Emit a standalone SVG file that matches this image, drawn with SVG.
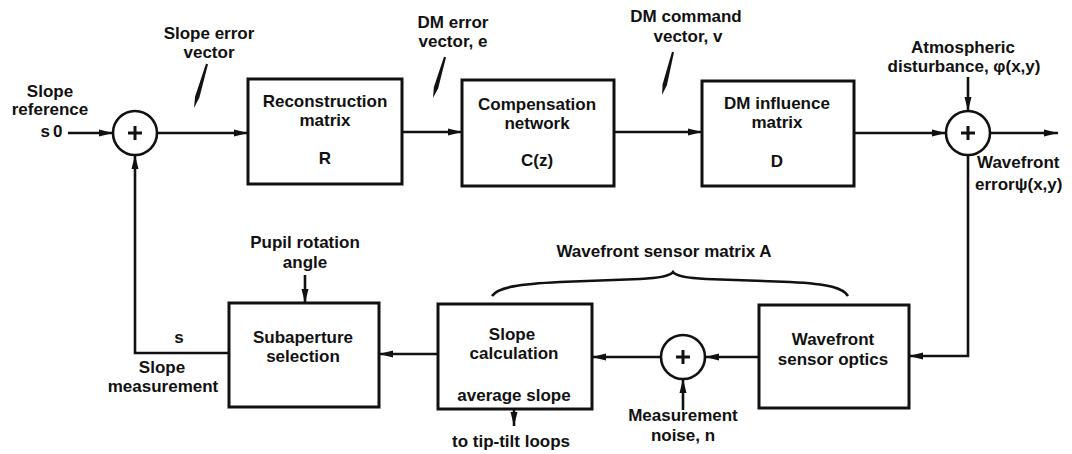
<svg xmlns="http://www.w3.org/2000/svg" width="1072" height="454" viewBox="0 0 1072 454">
<defs>
<style>
text{font-family:"Liberation Sans",Arial,sans-serif;font-weight:bold;font-size:17px;fill:#111;text-anchor:middle}
.box{fill:#fff;stroke:#111;stroke-width:3}
.sum{fill:#fff;stroke:#111;stroke-width:2.6}
.plus{stroke:#111;stroke-width:3;fill:none}
.ln{fill:none;stroke:#111;stroke-width:2.6}
.ptr{fill:#111;stroke:none}
.l{text-anchor:start}
</style>
<marker id="ah" viewBox="0 0 14 8" refX="14" refY="4" markerWidth="14" markerHeight="8" markerUnits="userSpaceOnUse" orient="auto">
<path d="M0,0.5 L14,4 L0,7.5 Z" fill="#111"/>
</marker>
</defs>
<rect width="1072" height="454" fill="#fff"/>

<g id="connectors">
<line class="ln" x1="68" y1="133" x2="113" y2="133" marker-end="url(#ah)"/>
<line class="ln" x1="157" y1="133" x2="248" y2="133" marker-end="url(#ah)"/>
<line class="ln" x1="402" y1="132" x2="462" y2="132" marker-end="url(#ah)"/>
<line class="ln" x1="614" y1="132" x2="702" y2="132" marker-end="url(#ah)"/>
<line class="ln" x1="854" y1="133" x2="946" y2="133" marker-end="url(#ah)"/>
<line class="ln" x1="990" y1="133" x2="1058" y2="133" marker-end="url(#ah)"/>
<line class="ln" x1="968" y1="77" x2="968" y2="111" marker-end="url(#ah)"/>
<polyline class="ln" points="968,155 968,356 909,356" marker-end="url(#ah)"/>
<line class="ln" x1="759" y1="357" x2="705" y2="357" marker-end="url(#ah)"/>
<line class="ln" x1="661" y1="357" x2="592" y2="357" marker-end="url(#ah)"/>
<line class="ln" x1="683" y1="410" x2="683" y2="379" marker-end="url(#ah)"/>
<line class="ln" x1="438" y1="354" x2="379" y2="354" marker-end="url(#ah)"/>
<polyline class="ln" points="229,353 135,353 135,155" marker-end="url(#ah)"/>
<line class="ln" x1="305" y1="275" x2="305" y2="303" marker-end="url(#ah)"/>
<line class="ln" x1="514" y1="409" x2="514" y2="426" marker-end="url(#ah)"/>
<polygon class="ptr" points="206,63.7 208,64.3 199.4,97.6 194,108 195.1,96.4"/>
<polygon class="ptr" points="444,56.7 446,57.3 438.1,88.4 433,98 433.9,87.1"/>
<polygon class="ptr" points="672,51.75 674,52.25 666.9,85.3 662,95 662.6,84.2"/>
<path class="ln" d="M492,296 C498,287 520,284 560,282 L640,279 C660,278 670,276 673,272 C676,276 686,278 706,279 L790,282 C830,284 843,288 848,296"/>
</g>

<g id="sum1"><circle class="sum" cx="135" cy="133" r="22"/><path class="plus" d="M128,133 H142 M135,126 V140"/></g>
<g id="sum2"><circle class="sum" cx="968" cy="133" r="22"/><path class="plus" d="M961,133 H975 M968,126 V140"/></g>
<g id="sum3"><circle class="sum" cx="683" cy="357" r="22"/><path class="plus" d="M676,357 H690 M683,350 V364"/></g>

<g id="reconstruction">
<rect class="box" x="248" y="79" width="154" height="105"/>
<text x="325" y="107">Reconstruction</text>
<text x="325" y="126">matrix</text>
<text x="325" y="164">R</text>
</g>
<g id="compensation">
<rect class="box" x="462" y="80" width="152" height="106"/>
<text x="537" y="110">Compensation</text>
<text x="537" y="129">network</text>
<text x="537" y="166">C(z)</text>
</g>
<g id="dm">
<rect class="box" x="702" y="81" width="152" height="105"/>
<text x="777" y="109">DM influence</text>
<text x="777" y="128">matrix</text>
<text x="777" y="167">D</text>
</g>
<g id="subaperture">
<rect class="box" x="229" y="303" width="150" height="104"/>
<text x="303" y="343">Subaperture</text>
<text x="303" y="362">selection</text>
</g>
<g id="slopecalc">
<rect class="box" x="438" y="304" width="154" height="105"/>
<text x="512" y="340">Slope</text>
<text x="514" y="359">calculation</text>
<text x="514" y="401">average slope</text>
</g>
<g id="wso">
<rect class="box" x="759" y="305" width="150" height="103"/>
<text x="833" y="345">Wavefront</text>
<text x="833" y="365">sensor optics</text>
</g>

<g id="labels">
<text x="209" y="39">Slope error</text>
<text x="209" y="58">vector</text>
<text x="50" y="97">Slope</text>
<text x="50" y="115">reference</text>
<text x="53" y="137" letter-spacing="3">s0</text>
<text x="453" y="28">DM error</text>
<text x="453" y="47">vector, e</text>
<text x="686" y="22">DM command</text>
<text x="688" y="42">vector, v</text>
<text x="963" y="53">Atmospheric</text>
<text x="964" y="72">disturbance, φ(x,y)</text>
<text class="l" x="977" y="168">Wavefront</text>
<text class="l" x="975" y="190">errorψ(x,y)</text>
<text x="664" y="257">Wavefront sensor matrix A</text>
<text x="305" y="248">Pupil rotation</text>
<text x="305" y="268">angle</text>
<text x="179" y="343">s</text>
<text x="162" y="373">Slope</text>
<text x="163" y="392">measurement</text>
<text x="683" y="421">Measurement</text>
<text x="683" y="441">noise, n</text>
<text x="511" y="447">to tip-tilt loops</text>
</g>
</svg>
